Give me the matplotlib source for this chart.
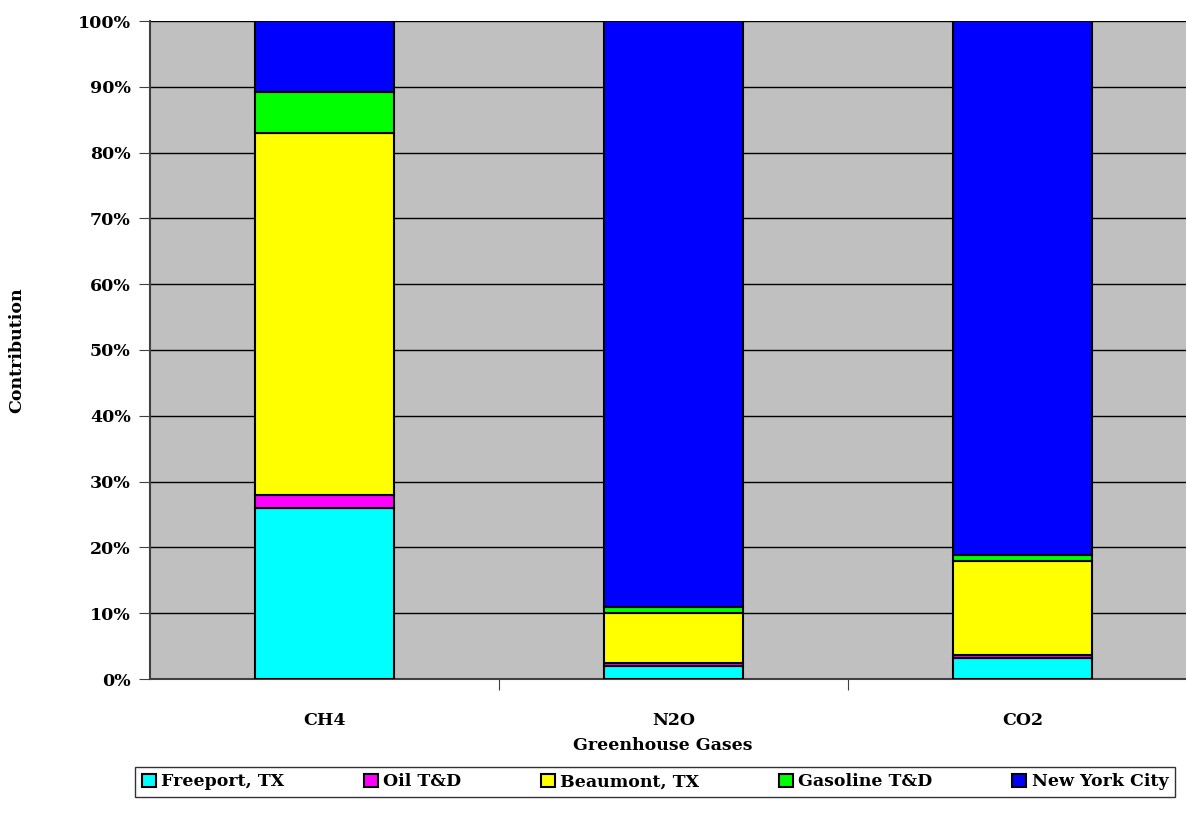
import numpy as np
import matplotlib
matplotlib.use('Agg')
from matplotlib import pyplot as plt
from matplotlib.ticker import MultipleLocator, PercentFormatter

# share of each source in each gas (%)
gases = ['CH4', 'N2O', 'CO2']
freeport = [26.0, 2.0, 3.2]
oil_td = [2.0, 0.5, 0.4]
beaumont = [55.0, 7.5, 14.3]
gasoline_td = [6.2, 0.9, 1.0]
new_york = [10.8, 89.1, 81.1]

series = [('Freeport, TX', freeport, '#00FFFF'),
          ('Oil T&D', oil_td, '#FF00FF'),
          ('Beaumont, TX', beaumont, '#FFFF00'),
          ('Gasoline T&D', gasoline_td, '#00FF00'),
          ('New York City', new_york, '#0000FF')]

plt.rcParams['font.family'] = ['DejaVu Serif']
plt.rcParams['font.weight'] = 'bold'

fig = plt.figure(figsize=(11.86, 8.14), dpi=100)
ax = fig.add_axes([150 / 1186, 1 - 679 / 814, 1047 / 1186, 658 / 814])
ax.set_facecolor('#C0C0C0')

x = np.arange(len(gases))
bottom = np.zeros(len(gases))
for name, vals, color in series:
    ax.bar(x, vals, 0.4, bottom=bottom, color=color, edgecolor='black',
           linewidth=1.5, label=name, zorder=3)
    bottom += np.array(vals)

ax.set_xlim(-0.5, 2.5)
ax.set_ylim(0, 100)
ax.yaxis.set_major_locator(MultipleLocator(10))
ax.yaxis.set_major_formatter(PercentFormatter(decimals=0))
ax.grid(axis='y', color='black', linewidth=1, zorder=1)

ax.set_xticks([0.5, 1.5])
ax.set_xticklabels([])
ax.set_xticks(x, minor=True)
ax.set_xticklabels(gases, minor=True, fontsize=12.5, fontweight='bold')
ax.tick_params(axis='x', which='minor', length=0, pad=24)
ax.tick_params(axis='x', which='major', length=8, color='#404040')
ax.tick_params(axis='y', length=8, color='#404040', labelsize=12.5, pad=6)

for s in ['top', 'right']:
    ax.spines[s].set_visible(False)
ax.spines['left'].set_color('#404040')
ax.spines['bottom'].set_color('#404040')
ax.spines['left'].set_linewidth(1.5)
ax.spines['bottom'].set_linewidth(1.5)

fig.text(663 / 1186, 1 - 745 / 814, 'Greenhouse Gases', ha='center', va='center',
         fontsize=12.5, fontweight='bold')
fig.text(17 / 1186, 1 - 350 / 814, 'Contribution', ha='center', va='center',
         rotation=90, fontsize=12.5, fontweight='bold')

leg = fig.legend(loc='center', bbox_to_anchor=(655 / 1186, 1 - 782 / 814), ncol=5,
                 frameon=True, fancybox=False, edgecolor='black',
                 handlelength=0.8, handleheight=0.8, handletextpad=0.3,
                 columnspacing=4.6, borderpad=0.4, borderaxespad=0,
                 prop={'size': 12.5, 'weight': 'bold'})
leg.get_frame().set_linewidth(1.0)

fig.savefig('out.png', dpi=100)
